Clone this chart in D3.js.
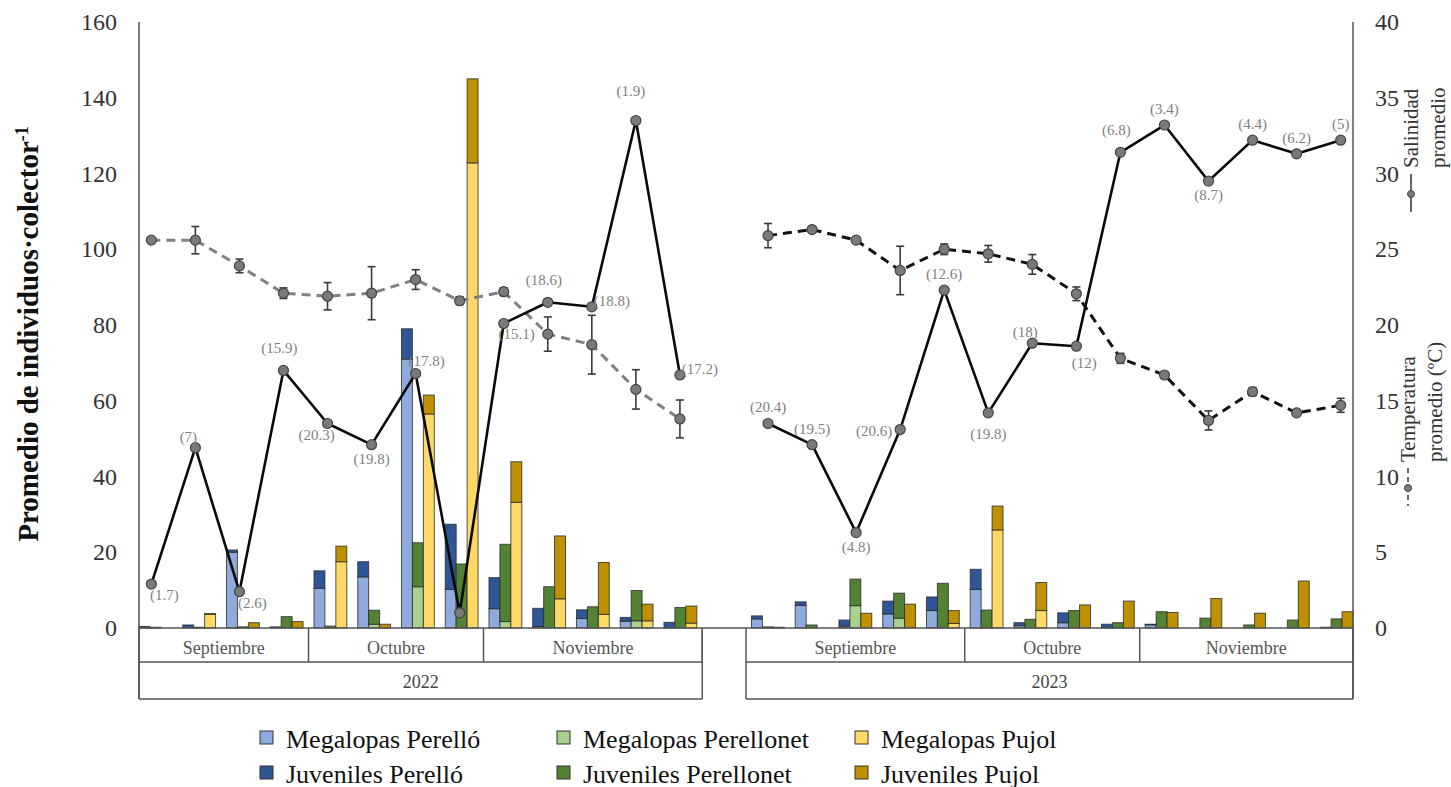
<!DOCTYPE html>
<html>
<head>
<meta charset="utf-8">
<script src="https://cdn.jsdelivr.net/npm/d3@7/dist/d3.min.js"></script>
<style>
  body { margin: 0; background: #fff; }
  svg { display: block; }
  text { font-family: "Liberation Serif", "Times New Roman", serif; }
</style>
</head>
<body>
<svg id="chart" width="1451" height="787"></svg>
<script>
// Sampling slots: 13 dates in 2022, one empty slot, 14 dates in 2023
const slots = d3.range(28).map(i => "s" + i);
const monthGroups = [
  { label: "Septiembre", from: 0, to: 3 },
  { label: "Octubre", from: 4, to: 7 },
  { label: "Noviembre", from: 8, to: 12 },
  { label: "Septiembre", from: 14, to: 18 },
  { label: "Octubre", from: 19, to: 22 },
  { label: "Noviembre", from: 23, to: 27 }
];
const yearGroups = [
  { label: "2022", from: 0, to: 12 },
  { label: "2023", from: 14, to: 27 }
];

const sites = ["Perelló", "Perellonet", "Pujol"];

// Mean individuals per collector (null = empty slot)
const megPerello    = [0, 0, 20.0, 0, 10.5, 13.5, 71.0, 10.2, 5.1, 0.4, 2.5, 1.8, 0, null, 2.4, 6.0, 0.5, 3.7, 4.6, 10.2, 0.6, 1.4, 0, 0.9, 0, 0, 0, 0];
const juvPerello    = [0.4, 0.8, 0.6, 0.3, 4.6, 4.0, 8.0, 17.2, 8.2, 4.8, 2.3, 1.0, 1.5, null, 0.8, 0.9, 1.6, 3.4, 3.6, 5.3, 0.8, 2.6, 1.0, 0.1, 0, 0, 0, 0.2];
const megPerellonet = [0, 0, 0, 0, 0, 1.0, 10.9, 0, 1.7, 0, 0, 1.9, 0, null, 0, 0, 5.9, 2.6, 0, 0, 0, 0, 0, 0, 0, 0, 0, 0];
const juvPerellonet = [0.2, 0.2, 0.3, 3.0, 0.5, 3.7, 11.6, 16.9, 20.4, 10.9, 5.6, 8.0, 5.4, null, 0.3, 0.8, 7.0, 6.6, 11.8, 4.75, 2.3, 4.6, 1.4, 4.3, 2.6, 0.8, 2.1, 2.4];
const megPujol      = [0, 3.7, 0, 0, 17.5, 0, 56.5, 122.8, 33.2, 7.7, 3.6, 1.9, 1.3, null, 0, 0, 0, 0, 1.2, 25.9, 4.6, 0, 0, 0, 0, 0, 0, 0];
const juvPujol      = [0, 0.1, 1.4, 1.7, 4.1, 1.0, 5.0, 22.2, 10.7, 16.6, 13.7, 4.4, 4.5, null, 0.2, 0, 3.9, 6.3, 3.4, 6.3, 7.4, 6.1, 7.1, 4.1, 7.8, 3.9, 12.4, 4.3];

// Mean salinity and its bracketed annotation
const salinity = [2.9, 11.9, 2.4, 17.0, 13.5, 12.1, 16.8, 1.0, 20.1, 21.5, 21.2, 33.5, 16.7, null, 13.5, 12.1, 6.3, 13.1, 22.3, 14.2, 18.8, 18.6, 31.4, 33.2, 29.5, 32.2, 31.3, 32.2];
const salinityLabels = ["(1.7)", "(7)", "(2.6)", "(15.9)", "(20.3)", "(19.8)", "(17.8)", "", "(15.1)", "(18.6)", "(18.8)", "(1.9)", "(17.2)", null,
  "(20.4)", "(19.5)", "(4.8)", "(20.6)", "(12.6)", "(19.8)", "(18)", "(12)", "(6.8)", "(3.4)", "(8.7)", "(4.4)", "(6.2)", "(5)"];
const labelPlacement = ["br", "al", "br", "A", "bl", "b", "ar", "", "br", "A", "r", "T", "r", "",
  "a", "a", "b", "l", "a", "B", "al", "bR", "A", "a", "b", "a", "a", "a"];

// Mean temperature (ºC) and its error
const temperature    = [25.6, 25.6, 23.9, 22.1, 21.9, 22.1, 23.0, 21.6, 22.2, 19.4, 18.7, 15.75, 13.8, null, 25.9, 26.3, 25.6, 23.6, 25.0, 24.7, 24.0, 22.06, 17.8, 16.7, 13.7, 15.6, 14.2, 14.7];
const temperatureErr = [0, 0.9, 0.45, 0.35, 0.9, 1.75, 0.65, 0.25, 0.25, 1.13, 1.94, 1.3, 1.25, null, 0.8, 0, 0, 1.6, 0.35, 0.55, 0.65, 0.45, 0.33, 0, 0.63, 0.27, 0, 0.46];

const leftTicks = d3.range(0, 161, 20);
const rightTicks = d3.range(0, 41, 5);

const seriesMeta = [
  { key: "megPerello", name: "Megalopas Perelló", values: megPerello, site: 0, color: "#8faadc" },
  { key: "megPerellonet", name: "Megalopas Perellonet", values: megPerellonet, site: 1, color: "#a9d18e" },
  { key: "megPujol", name: "Megalopas Pujol", values: megPujol, site: 2, color: "#ffd966" },
  { key: "juvPerello", name: "Juveniles Perelló", values: juvPerello, site: 0, color: "#2f5597" },
  { key: "juvPerellonet", name: "Juveniles Perellonet", values: juvPerellonet, site: 1, color: "#548235" },
  { key: "juvPujol", name: "Juveniles Pujol", values: juvPujol, site: 2, color: "#bf9000" }
];

const svg = d3.select("#chart");
const plot = { left: 139, right: 1353, top: 22, bottom: 628 };

const x = d3.scaleBand().domain(slots).range([plot.left, plot.right]).paddingInner(0.25).paddingOuter(0);
const xSite = d3.scaleBand().domain(sites).range([0, x.bandwidth()]).padding(0);
const xPt = d3.scalePoint().domain(slots).range([plot.left, plot.right]).padding(0.28);
const y = d3.scaleLinear().domain([0, 160]).range([plot.bottom, plot.top]);
const y2 = d3.scaleLinear().domain([0, 40]).range([plot.bottom, plot.top]);

// ---- stacked bars: megalopas at the base, juveniles on top ----
const barData = [];
slots.forEach((s, i) => {
  sites.forEach((site, k) => {
    const meg = [megPerello, megPerellonet, megPujol][k][i];
    const juv = [juvPerello, juvPerellonet, juvPujol][k][i];
    if (meg == null) return;
    const mc = seriesMeta[k].color, jc = seriesMeta[k + 3].color;
    if (meg > 0) barData.push({ s, site, y0: 0, y1: meg, color: mc });
    if (juv > 0) barData.push({ s, site, y0: meg, y1: meg + juv, color: jc });
  });
});
svg.append("g").selectAll("rect").data(barData).join("rect")
  .attr("x", d => x(d.s) + xSite(d.site))
  .attr("width", xSite.bandwidth())
  .attr("y", d => y(d.y1))
  .attr("height", d => Math.max(0.8, y(d.y0) - y(d.y1)))
  .attr("fill", d => d.color)
  .attr("stroke", "#2a2a2a")
  .attr("stroke-opacity", 0.8)
  .attr("stroke-width", 1);

// ---- axes ----
const axisColor = "#555";
const gl = svg.append("g").attr("transform", `translate(${plot.left},0)`)
  .call(d3.axisLeft(y).tickValues(leftTicks).tickSize(0).tickPadding(22));
gl.select(".domain").remove();
gl.selectAll("text").attr("font-size", 24).attr("fill", "#333")
  .style("font-family", '"Liberation Serif", serif');

const gr = svg.append("g").attr("transform", `translate(${plot.right},0)`)
  .call(d3.axisRight(y2).tickValues(rightTicks).tickSize(0).tickPadding(22));
gr.select(".domain").remove();
gr.selectAll("text").attr("font-size", 24).attr("fill", "#333")
  .style("font-family", '"Liberation Serif", serif');

// Axis lines and the two-level category frame
const frame = svg.append("g").attr("stroke", axisColor).attr("stroke-width", 1.5).attr("fill", "none");
const row1 = 662, row2 = 699;
frame.append("line").attr("x1", plot.left).attr("x2", plot.left).attr("y1", plot.top).attr("y2", row2);
frame.append("line").attr("x1", plot.right).attr("x2", plot.right).attr("y1", plot.top).attr("y2", row2);
frame.append("line").attr("x1", plot.left).attr("x2", plot.right).attr("y1", plot.bottom).attr("y2", plot.bottom);

const gapHalf = (x.step() - x.bandwidth()) / 2;
const groupStart = i => (i === 0 ? plot.left : x(slots[i]) - gapHalf);
const groupEnd = i => (i === slots.length - 1 ? plot.right : x(slots[i]) + x.bandwidth() + gapHalf);

yearGroups.forEach(g => {
  const a = groupStart(g.from), b = groupEnd(g.to);
  frame.append("line").attr("x1", a).attr("x2", b).attr("y1", row1).attr("y2", row1);
  frame.append("line").attr("x1", a).attr("x2", b).attr("y1", row2).attr("y2", row2);
  frame.append("line").attr("x1", a).attr("x2", a).attr("y1", plot.bottom).attr("y2", row2);
  frame.append("line").attr("x1", b).attr("x2", b).attr("y1", plot.bottom).attr("y2", row2);
  svg.append("text").attr("x", (a + b) / 2).attr("y", (row1 + row2) / 2 + 1)
    .attr("text-anchor", "middle").attr("dominant-baseline", "central")
    .attr("font-size", 18).attr("fill", "#444").text(g.label);
});
monthGroups.forEach(g => {
  const a = groupStart(g.from), b = groupEnd(g.to);
  frame.append("line").attr("x1", b).attr("x2", b).attr("y1", plot.bottom).attr("y2", row1);
  svg.append("text").attr("x", (a + b) / 2).attr("y", (plot.bottom + row1) / 2 + 3)
    .attr("text-anchor", "middle").attr("dominant-baseline", "central")
    .attr("font-size", 18).attr("fill", "#555").text(g.label);
});

// Left axis title
const lt = svg.append("text")
  .attr("transform", `translate(38,334) rotate(-90)`)
  .attr("text-anchor", "middle").attr("font-size", 29).attr("font-weight", "bold").attr("fill", "#111");
lt.append("tspan").text("Promedio de individuos·colector");
lt.append("tspan").attr("baseline-shift", "super").attr("font-size", 18).text("-1");

// ---- lines: temperature (dashed) and salinity (solid), split by year ----
const years = [d3.range(0, 13), d3.range(14, 28)];
const tempStyle = [{ stroke: "#808080" }, { stroke: "#111" }];
const lineT = d3.line().x(i => xPt(slots[i])).y(i => y2(temperature[i]));
const lineS = d3.line().x(i => xPt(slots[i])).y(i => y2(salinity[i]));

years.forEach((idx, k) => {
  svg.append("path").attr("d", lineT(idx)).attr("fill", "none")
    .attr("stroke", tempStyle[k].stroke).attr("stroke-width", 3).attr("stroke-dasharray", "9,6");
});

// error bars for temperature
const errIdx = d3.range(28).filter(i => temperatureErr[i] > 0);
const eb = svg.append("g").attr("stroke", "#3a3a3a").attr("stroke-width", 1.6);
errIdx.forEach(i => {
  const cx = xPt(slots[i]);
  const yt = y2(temperature[i] + temperatureErr[i]), yb = y2(temperature[i] - temperatureErr[i]);
  eb.append("line").attr("x1", cx).attr("x2", cx).attr("y1", yt).attr("y2", yb);
  eb.append("line").attr("x1", cx - 4).attr("x2", cx + 4).attr("y1", yt).attr("y2", yt);
  eb.append("line").attr("x1", cx - 4).attr("x2", cx + 4).attr("y1", yb).attr("y2", yb);
});

years.forEach(idx => {
  svg.append("path").attr("d", lineS(idx)).attr("fill", "none")
    .attr("stroke", "#0a0a0a").attr("stroke-width", 2.6).attr("stroke-linejoin", "round");
});

const markerIdx = d3.range(28).filter(i => salinity[i] != null);
svg.append("g").selectAll("circle").data(markerIdx).join("circle")
  .attr("cx", i => xPt(slots[i])).attr("cy", i => y2(temperature[i])).attr("r", 5)
  .attr("fill", "#7a7a7a").attr("stroke", "#444").attr("stroke-width", 1.2);
svg.append("g").selectAll("circle").data(markerIdx).join("circle")
  .attr("cx", i => xPt(slots[i])).attr("cy", i => y2(salinity[i])).attr("r", 5)
  .attr("fill", "#7a7a7a").attr("stroke", "#444").attr("stroke-width", 1.2);

// bracketed annotations next to the salinity markers
const offsets = {
  a: [0, -16], A: [-4, -22], T: [-5, -29], b: [0, 14], B: [0, 21], bR: [8, 17],
  r: [20, -6], l: [-26, 1], br: [13, 11], bl: [-11, 12], ar: [11, -12], al: [-7, -11]
};
svg.append("g").selectAll("text").data(markerIdx.filter(i => salinityLabels[i]))
  .join("text")
  .attr("x", i => xPt(slots[i]) + offsets[labelPlacement[i]][0])
  .attr("y", i => y2(salinity[i]) + offsets[labelPlacement[i]][1])
  .attr("text-anchor", "middle").attr("dominant-baseline", "central")
  .attr("font-size", 15).attr("fill", "#7f7f7f")
  .text(i => salinityLabels[i]);

// ---- right-side series keys (rotated) ----
function sideKey(xc, yBase, dashed, lines) {
  const g = svg.append("g");
  g.append("line").attr("x1", xc).attr("x2", xc).attr("y1", yBase + 6).attr("y2", yBase + 44)
    .attr("stroke", "#666").attr("stroke-width", 2).attr("stroke-dasharray", dashed ? "5,4" : null);
  g.append("circle").attr("cx", xc).attr("cy", yBase + 26).attr("r", 3.5).attr("fill", "#7a7a7a").attr("stroke", "#444");
  lines.forEach((t, j) => {
    g.append("text")
      .attr("transform", `translate(${xc + 7 + j * 27},${yBase}) rotate(-90)`)
      .attr("text-anchor", "start").attr("font-size", 21).attr("fill", "#333").text(t);
  });
}
sideKey(1411, 168, false, ["Salinidad", "promedio"]);
sideKey(1408, 462, true, ["Temperatura", "promedio (ºC)"]);

// ---- legend ----
const legendCols = [266, 563, 861];
const legendRows = [738, 773];
const lg = svg.append("g");
seriesMeta.forEach((s, j) => {
  const cx = legendCols[j % 3], cy = legendRows[Math.floor(j / 3)];
  lg.append("rect").attr("x", cx - 6).attr("y", cy - 7).attr("width", 13).attr("height", 13)
    .attr("fill", s.color).attr("stroke", "#333").attr("stroke-width", 1);
  lg.append("text").attr("x", cx + 20).attr("y", cy + 1).attr("dominant-baseline", "central")
    .attr("font-size", 26).attr("fill", "#111").text(s.name);
});
</script>
</body>
</html>
